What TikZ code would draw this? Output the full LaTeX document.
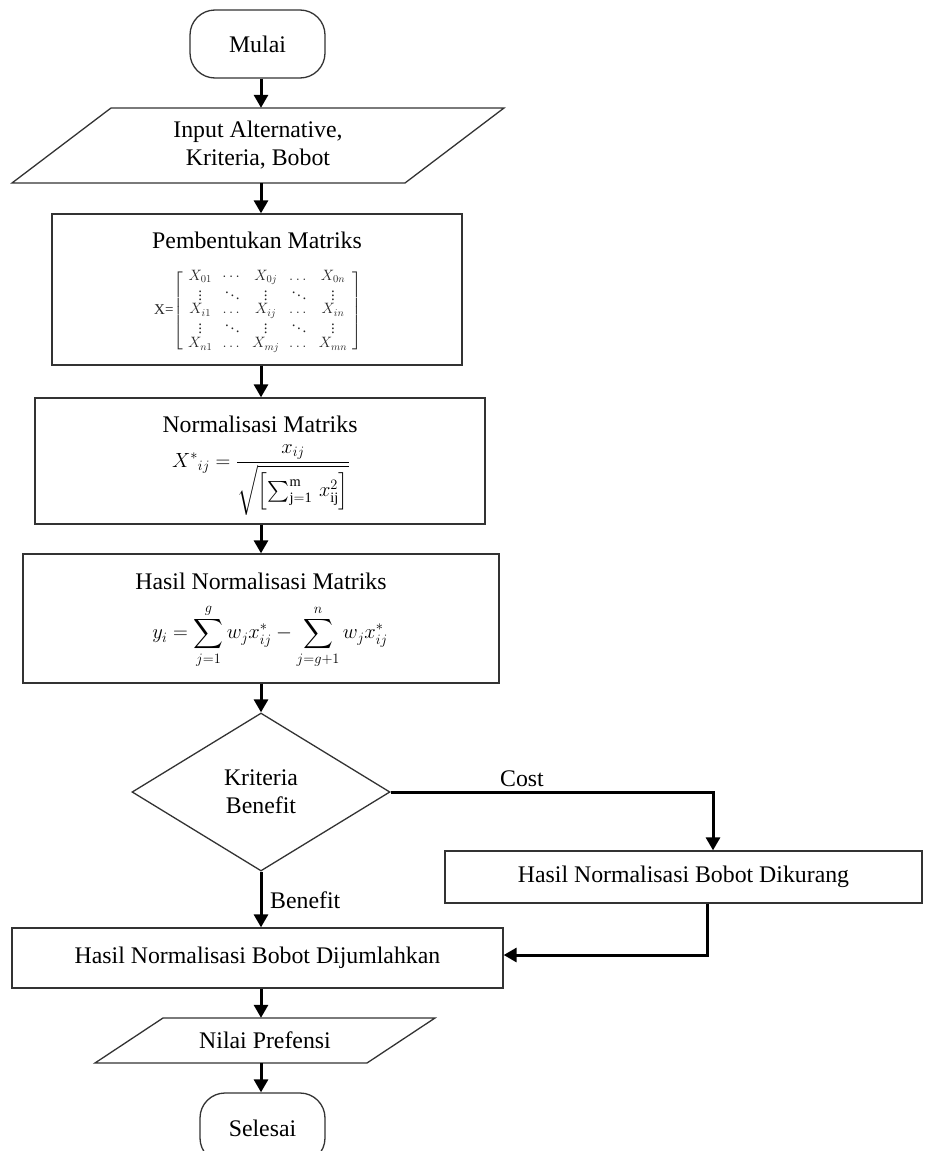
\RequirePackage{fix-cm}
\documentclass[tikz,border=0pt]{standalone}
\usepackage{amsmath}
\usepackage{fontspec}
\setmainfont{Liberation Serif}
\usetikzlibrary{shapes.geometric,arrows.meta}
\begin{document}
\begin{tikzpicture}[x=1pt,y=-1pt,
  font=\fontsize{23.8}{28}\selectfont,
  boxline/.style={draw=black!80,line width=1.3pt},
  proc/.style={boxline,rectangle,inner sep=0pt,align=center},
  term/.style={boxline,rectangle,rounded corners=25pt,inner sep=0pt,align=center},
  plain/.style={rectangle,inner sep=0pt,align=center},
  arr/.style={line width=3pt,-{Triangle[length=13pt,width=14pt]}},
  lbl/.style={inner sep=0pt}
]
\useasboundingbox[fill=white] (0,0) rectangle (931,1151);
\coordinate (ax) at (261,0);

% Mulai
\node[term,minimum width=135pt,minimum height=68pt] (mulai) at (257.5,44) {Mulai};

% Input
\node[plain,minimum width=492pt,minimum height=75pt] (inp) at (258,145.5) {Input Alternative,\\Kriteria, Bobot};
\draw[boxline] (111,108) -- (504,108) -- (405,183) -- (12,183) -- cycle;

% Pembentukan Matriks
\node[proc,minimum width=410pt,minimum height=151pt] (pemb) at (257,289.5) {};
\node[plain] (pembt) at (257,240) {Pembentukan Matriks};
\node[plain,font=\fontsize{15}{17}\selectfont,text=black!85] (pembm) at (258,311)
 {X=$\renewcommand{\arraystretch}{0.72}\setlength{\arraycolsep}{5pt}\left[\begin{array}{ccccc}
 X_{01} & \cdots & X_{0j} & \dots & X_{0n}\\
 \vdots & \ddots & \vdots & \ddots & \vdots\\
 X_{i1} & \dots & X_{ij} & \dots & X_{in}\\
 \vdots & \ddots & \vdots & \ddots & \vdots\\
 X_{n1} & \dots & X_{mj} & \dots & X_{mn}
 \end{array}\right]$};

% Normalisasi Matriks
\node[proc,minimum width=450pt,minimum height=126pt] (norm) at (260,461) {};
\node[plain] (normt) at (260,424) {Normalisasi Matriks};
\node[plain,font=\fontsize{20.5}{24}\selectfont] (normf) at (261,480)
 {$X^{*}{}_{ij}=\dfrac{x_{ij}}{\sqrt{\left[\sum_{\mathrm{j=1}}^{\mathrm{m}}\,x_{\mathrm{ij}}^{2}\right]}}$};

% Hasil Normalisasi Matriks
\node[proc,minimum width=476pt,minimum height=129pt] (hasil) at (261,618.5) {};
\node[plain] (hasilt) at (261,581) {Hasil Normalisasi Matriks};
\node[plain,font=\fontsize{20.5}{24}\selectfont] (hasilf) at (270,636)
 {$\displaystyle y_i=\sum_{j=1}^{g} w_j x_{ij}^{*}-\sum_{j=g+1}^{n} w_j x_{ij}^{*}$};

% Decision
\node[diamond,boxline,minimum width=258pt,minimum height=158pt,inner sep=0pt,align=center] (dec) at (261,792) {Kriteria\\Benefit};

% Dikurang
\node[proc,minimum width=477pt,minimum height=52pt] (kur) at (683.5,877) {Hasil Normalisasi Bobot Dikurang};

% Dijumlahkan
\node[proc,minimum width=491pt,minimum height=60pt] (jum) at (257.5,958) {Hasil Normalisasi Bobot Dijumlahkan};

% Nilai Prefensi
\node[plain,minimum width=340pt,minimum height=45pt] (nilai) at (265,1040.5) {Nilai Prefensi};
\draw[boxline] (163,1018) -- (435,1018) -- (367,1063) -- (95,1063) -- cycle;

% Selesai
\node[term,minimum width=125pt,minimum height=70pt] (sel) at (262.5,1128) {Selesai};

% connectors
\draw[arr] (mulai.south -| ax) -- (inp.north -| ax);
\draw[arr] (inp.south -| ax) -- (pemb.north -| ax);
\draw[arr] (pemb.south -| ax) -- (norm.north -| ax);
\draw[arr] (norm.south -| ax) -- (hasil.north -| ax);
\draw[arr] (hasil.south -| ax) -- (dec.north);
\coordinate (costc) at (713,792);
\draw[arr] (dec.east) -- (costc) -- (costc |- kur.north);
\node[lbl] (costl) at (522,779) {Cost};
\draw[arr] (dec.south) -- (jum.north -| dec.south);
\node[lbl,anchor=west] (benl) at (270,900) {Benefit};
\coordinate (retc) at (707,955);
\draw[arr] (retc |- kur.south) -- (retc) -- (retc -| jum.east);
\draw[arr] (jum.south -| ax) -- (nilai.north -| ax);
\draw[arr] (nilai.south -| ax) -- (sel.north -| ax);
\end{tikzpicture}
\end{document}
